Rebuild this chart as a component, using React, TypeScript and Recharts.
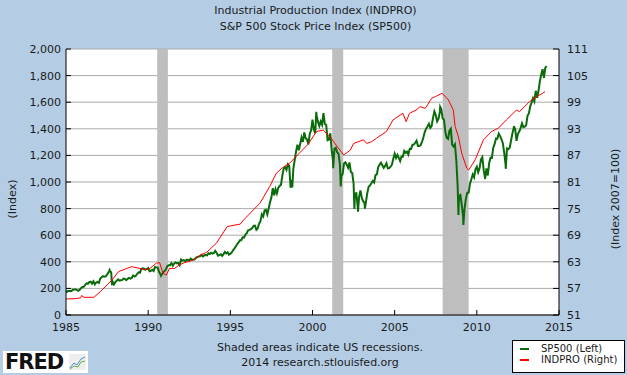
import { LineChart, Line, XAxis, YAxis, CartesianGrid, ReferenceArea } from 'recharts'

// S&P 500 month-end closes, starting Dec 1984 (x = 1985 + i/12)
const sp500Monthly = [
  167,
  180, 181, 181, 180, 190, 192, 191, 189, 182, 190, 202, 211,
  212, 227, 238, 235, 247, 251, 236, 253, 231, 244, 249, 242,
  274, 284, 292, 288, 290, 304, 319, 330, 322, 252, 230, 247,
  257, 268, 259, 261, 262, 274, 272, 262, 272, 279, 274, 278,
  297, 289, 295, 310, 321, 318, 346, 351, 349, 340, 346, 353,
  329, 332, 340, 331, 361, 358, 356, 323, 306, 304, 322, 330,
  344, 367, 375, 375, 390, 371, 388, 395, 388, 392, 375, 417,
  409, 413, 404, 415, 415, 408, 424, 414, 418, 419, 431, 436,
  439, 443, 452, 440, 450, 451, 448, 464, 459, 468, 462, 466,
  482, 467, 446, 451, 457, 444, 458, 475, 463, 472, 454, 459,
  470, 487, 501, 515, 533, 545, 562, 562, 584, 582, 605, 616,
  636, 640, 646, 654, 669, 671, 640, 652, 687, 705, 757, 741,
  786, 791, 757, 801, 848, 885, 954, 899, 947, 915, 955, 970,
  980, 1049, 1102, 1112, 1091, 1134, 1121, 957, 1017, 1099, 1164, 1229,
  1280, 1238, 1286, 1335, 1302, 1373, 1329, 1320, 1283, 1363, 1389, 1469,
  1394, 1366, 1499, 1452, 1421, 1455, 1431, 1518, 1437, 1429, 1315, 1320,
  1366, 1240, 1160, 1249, 1256, 1224, 1211, 1134, 1041, 1060, 1139, 1148,
  1130, 1107, 1147, 1076, 1067, 990, 912, 916, 815, 886, 936, 880,
  856, 841, 848, 916, 964, 975, 990, 1008, 996, 1051, 1058, 1112,
  1131, 1145, 1126, 1107, 1121, 1141, 1102, 1104, 1115, 1130, 1174, 1212,
  1181, 1204, 1181, 1157, 1192, 1191, 1234, 1220, 1229, 1207, 1249, 1248,
  1280, 1281, 1295, 1311, 1270, 1270, 1277, 1304, 1336, 1378, 1401, 1418,
  1438, 1407, 1421, 1482, 1531, 1503, 1455, 1474, 1527, 1549, 1481, 1468,
  1379, 1331, 1323, 1386, 1400, 1280, 1267, 1283, 1165, 969, 896, 903,
  826, 735, 798, 873, 919, 919, 987, 1021, 1057, 1036, 1096, 1115,
  1074, 1104, 1169, 1187, 1089, 1031, 1102, 1049, 1141, 1183, 1181, 1258,
  1286, 1327, 1326, 1364, 1345, 1321, 1292, 1219, 1131, 1253, 1247, 1258,
  1312, 1366, 1408, 1398, 1310, 1362, 1379, 1407, 1441, 1412, 1416, 1426,
  1498, 1515, 1569, 1598, 1631, 1606, 1686, 1633, 1682, 1757, 1806, 1848,
  1783, 1859, 1872,
]

// daily highs / lows that show up as spikes
const sp500Spikes: [number, number][] = [
  [1987.65, 337], [1987.8, 225], [1990.78, 295], [1998.77, 959],
  [2000.23, 1527], [2001.26, 1103], [2001.72, 966], [2002.55, 797],
  [2002.77, 777], [2003.19, 800], [2007.77, 1565], [2008.88, 752],
  [2009.18, 677], [2010.5, 1022], [2011.76, 1099], [2012.25, 1419],
]

const indpro: [number, number][] = [
  [1985.0, 54.6], [1985.6, 54.7], [1985.9, 54.9], [1985.95, 55.4], [1986.1, 55.0],
  [1986.7, 55.0], [1987.1, 56.3], [1987.5, 57.8], [1987.8, 58.9], [1988.2, 60.8],
  [1988.7, 61.5], [1989.0, 61.9], [1989.5, 61.5], [1989.8, 61.2], [1990.1, 61.5],
  [1990.5, 62.7], [1990.7, 62.8], [1990.9, 60.4], [1991.1, 60.0], [1991.3, 61.5],
  [1991.6, 61.5], [1991.9, 62.3], [1992.2, 62.8], [1992.75, 63.4], [1993.15, 64.5],
  [1993.55, 65.1], [1994.15, 67.2], [1994.8, 70.9], [1995.0, 71.1], [1995.6, 71.5],
  [1995.8, 72.4], [1996.4, 74.7], [1996.8, 76.2], [1997.4, 80.0], [1997.8, 83.0],
  [1998.2, 84.3], [1998.6, 85.2], [1999.2, 87.5], [1999.7, 89.4], [2000.25, 92.4],
  [2000.65, 92.7], [2001.07, 91.2], [2001.5, 89.0], [2001.9, 87.1], [2002.3, 88.2],
  [2002.5, 89.7], [2003.1, 90.5], [2003.3, 89.7], [2003.6, 90.1], [2003.9, 90.9],
  [2004.5, 92.4], [2004.9, 95.0], [2005.5, 96.5], [2005.7, 94.6], [2005.9, 96.5],
  [2006.3, 97.2], [2006.55, 98.0], [2006.85, 97.6], [2007.0, 98.4], [2007.25, 99.9],
  [2007.5, 100.3], [2007.87, 101.0], [2008.0, 100.6], [2008.27, 99.5], [2008.57, 97.2],
  [2008.68, 93.5], [2008.88, 91.2], [2009.08, 87.5], [2009.39, 84.1], [2009.5, 83.7],
  [2009.9, 86.0], [2010.4, 90.5], [2010.9, 92.4], [2011.3, 93.1], [2011.8, 95.0],
  [2012.4, 97.2], [2012.6, 96.9], [2013.2, 99.1], [2013.65, 100.3], [2014.0, 101.0],
  [2014.15, 101.4],
]

const recessions: [number, number][] = [[1990.55, 1991.2], [2001.2, 2001.87], [2007.92, 2009.5]]
const yearTicks = [1985, 1990, 1995, 2000, 2005, 2010, 2015]
const leftTicks = [0, 200, 400, 600, 800, 1000, 1200, 1400, 1600, 1800, 2000]
const rightTicks = [51, 57, 63, 69, 75, 81, 87, 93, 99, 105, 111]

const spData = [
  ...sp500Monthly.map((v, i) => ({ date: 1985 + i / 12, value: v })),
  ...sp500Spikes.map(([d, v]) => ({ date: d, value: v })),
].sort((a, b) => a.date - b.date)
const ipData = indpro.map(([d, v]) => ({ date: d, value: v }))

const FONT = '"DejaVu Sans", Verdana, sans-serif'
const TXT = '#1a1a1a'

const LeftTick = (p: any) => {
  const ax = p.x + 8
  return (
    <g>
      <line x1={ax} x2={ax + 5} y1={p.y} y2={p.y} stroke="#000" />
      <text x={ax - 5} y={p.y + 4} textAnchor="end" fontSize={11} fill={TXT} fontFamily={FONT}>
        {p.payload.value.toLocaleString('en-US')}
      </text>
    </g>
  )
}

const RightTick = (p: any) => {
  const ax = p.x - 8
  return (
    <g>
      <line x1={ax - 6} x2={ax} y1={p.y} y2={p.y} stroke="#000" />
      <text x={ax + 8} y={p.y + 4} textAnchor="start" fontSize={11} fill={TXT} fontFamily={FONT}>
        {p.payload.value}
      </text>
    </g>
  )
}

const BottomTick = (p: any) => {
  const ay = p.y - 8
  return (
    <g>
      <line x1={p.x} x2={p.x} y1={ay} y2={ay - 5} stroke="#000" />
      <text x={p.x} y={ay + 16} textAnchor="middle" fontSize={11} fill={TXT} fontFamily={FONT}>
        {p.payload.value}
      </text>
    </g>
  )
}

const abs = (s: React.CSSProperties): React.CSSProperties => ({ position: 'absolute', ...s })

export default function App() {
  return (
    <div style={abs({ left: 0, top: 0, width: 627, height: 375, background: '#b4cde4', fontFamily: FONT, color: TXT, overflow: 'hidden' })}>
      <div style={abs({ left: 0, width: 627, top: 3, textAlign: 'center', fontSize: 11, lineHeight: '16px' })}>
        <div style={{ marginLeft: 4 }}>Industrial Production Index (INDPRO)</div>
        <div style={{ marginLeft: 4 }}>S&amp;P 500 Stock Price Index (SP500)</div>
      </div>

      <LineChart width={627} height={375} margin={{ top: 49, right: 0, bottom: 0, left: 0 }} style={{ position: 'absolute', left: 0, top: 0 }}>
        <CartesianGrid yAxisId="left" vertical={false} stroke="#aaaaaa" fill="#ffffff" fillOpacity={1} />
        {recessions.map(([a, b]) => (
          <ReferenceArea key={a} yAxisId="left" x1={a} x2={b} y1={0} y2={2000} fill="#bebebe" fillOpacity={1} stroke="none" />
        ))}
        <XAxis
          dataKey="date" type="number" domain={[1985, 2015]} ticks={yearTicks} allowDataOverflow
          height={60} tickSize={4} tickMargin={4} tickLine={false} axisLine={{ stroke: '#000' }} tick={<BottomTick />}
        />
        <YAxis
          yAxisId="left" domain={[0, 2000]} ticks={leftTicks} width={66} tickSize={4} tickMargin={4}
          tickLine={false} axisLine={{ stroke: '#000' }} tick={<LeftTick />} allowDataOverflow
        />
        <YAxis
          yAxisId="right" orientation="right" domain={[51, 111]} ticks={rightTicks} width={68} tickSize={4} tickMargin={4}
          tickLine={false} axisLine={{ stroke: '#000' }} tick={<RightTick />} allowDataOverflow
        />
        <Line yAxisId="left" data={spData} dataKey="value" stroke="#0a6b0a" strokeWidth={2} dot={false} isAnimationActive={false} />
        <Line yAxisId="right" data={ipData} dataKey="value" stroke="#ff0000" strokeWidth={1} dot={false} isAnimationActive={false} />
      </LineChart>

      <div style={abs({ left: 12, top: 199, fontSize: 11, transform: 'translate(-50%, -50%) rotate(-90deg)', whiteSpace: 'nowrap' })}>(Index)</div>
      <div style={abs({ left: 615, top: 199, fontSize: 11, transform: 'translate(-50%, -50%) rotate(-90deg)', whiteSpace: 'nowrap' })}>(Index 2007=100)</div>

      <div style={abs({ left: 0, width: 640, top: 340, textAlign: 'center', fontSize: 11, lineHeight: '15px' })}>
        <div>Shaded areas indicate US recessions.</div>
        <div>2014 research.stlouisfed.org</div>
      </div>

      <div style={abs({ left: 512, top: 340, width: 111, height: 31, background: '#fff', border: '1px solid #000', fontSize: 10 })}>
        <div style={abs({ left: 7, top: 7, width: 9, height: 2, background: '#0a6b0a' })} />
        <div style={abs({ left: 28, top: 2, lineHeight: '12px' })}>SP500 (Left)</div>
        <div style={abs({ left: 7, top: 18, width: 9, height: 2, background: '#ff0000' })} />
        <div style={abs({ left: 28, top: 13, lineHeight: '12px' })}>INDPRO (Right)</div>
      </div>

      <div style={abs({ left: 3, top: 351, width: 85, height: 22, background: '#fff' })}>
        <div style={abs({ left: 2, top: 0, fontSize: 21, fontWeight: 900, lineHeight: '22px', color: '#111', fontFamily: '"DejaVu Sans", sans-serif', letterSpacing: -1 })}>FRED</div>
        <svg style={{ position: 'absolute', left: 66, top: 3 }} width={17} height={16}>
          <rect x={0} y={0} width={17} height={16} fill="#eeeeee" />
          <polyline points="1,14 5,9 8,11 12,5 16,3" fill="none" stroke="#4f8fd0" strokeWidth={1} />
          <polyline points="1,15 5,12 9,13 12,8 16,7" fill="none" stroke="#6ab04c" strokeWidth={1} />
        </svg>
      </div>
    </div>
  )
}
